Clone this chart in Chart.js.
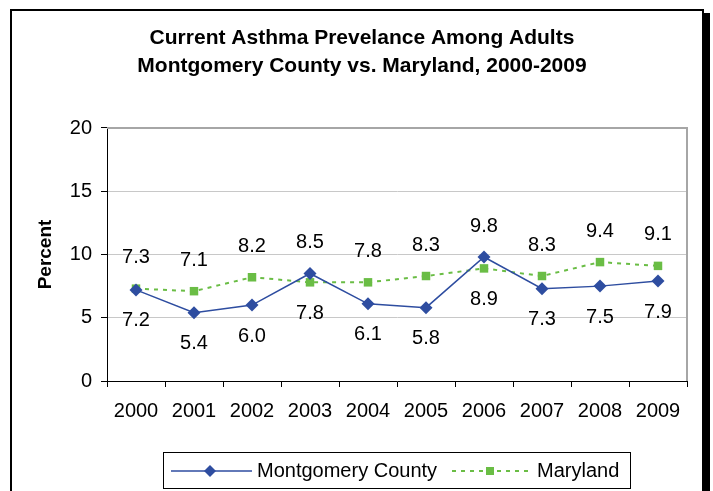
<!DOCTYPE html>
<html>
<head>
<meta charset="utf-8">
<script src="https://cdn.jsdelivr.net/npm/chart.js@4.4.1/dist/chart.umd.min.js"></script>
<style>
  html, body { margin: 0; padding: 0; background: #fff; }
  #wrap { position: relative; width: 713px; height: 491px; }
</style>
</head>
<body>
<div id="wrap"><canvas id="c" width="713" height="491"></canvas></div>
<script>
const years = ['2000','2001','2002','2003','2004','2005','2006','2007','2008','2009'];
const montgomery = [7.2, 5.4, 6.0, 8.5, 6.1, 5.8, 9.8, 7.3, 7.5, 7.9];
const maryland = [7.3, 7.1, 8.2, 7.8, 7.8, 8.3, 8.9, 8.3, 9.4, 9.1];
const yTicks = [0, 5, 10, 15, 20];
const titleLines = ['Current Asthma Prevelance Among Adults', 'Montgomery County vs. Maryland, 2000-2009'];
const yTitle = 'Percent';
const seriesNames = ['Montgomery County', 'Maryland'];

const BLUE = '#2E4DA0';
const GREEN = '#6ABD45';
const FONT = "'Liberation Sans', Arial, sans-serif";

const framePlugin = {
  id: 'frame',
  beforeDraw(chart) {
    const ctx = chart.ctx;
    ctx.save();
    ctx.fillStyle = '#fff';
    ctx.fillRect(0, 0, chart.width, chart.height);
    ctx.fillStyle = '#000';
    ctx.fillRect(704, 13, 6, chart.height);
    ctx.strokeStyle = '#000';
    ctx.lineWidth = 2;
    ctx.beginPath();
    ctx.moveTo(11, chart.height + 5);
    ctx.lineTo(11, 10);
    ctx.lineTo(703, 10);
    ctx.lineTo(703, chart.height + 5);
    ctx.stroke();
    ctx.restore();
  },
  beforeDatasetsDraw(chart) {
    const a = chart.chartArea, ctx = chart.ctx;
    ctx.save();
    ctx.strokeStyle = '#A6A6A6';
    ctx.lineWidth = 2;
    ctx.beginPath();
    ctx.moveTo(a.left, a.top);
    ctx.lineTo(a.right, a.top);
    ctx.lineTo(a.right, a.bottom);
    ctx.stroke();
    ctx.restore();
  }
};

const labelPlugin = {
  id: 'valueLabels',
  afterDatasetsDraw(chart) {
    const ctx = chart.ctx;
    const m0 = chart.getDatasetMeta(0).data;
    const m1 = chart.getDatasetMeta(1).data;
    const d0 = chart.data.datasets[0].data;
    const d1 = chart.data.datasets[1].data;
    ctx.save();
    ctx.font = '20px ' + FONT;
    ctx.fillStyle = '#000';
    ctx.textAlign = 'center';
    ctx.textBaseline = 'middle';
    for (let i = 0; i < d0.length; i++) {
      const aUp = d0[i] > d1[i];
      const up = aUp ? [m0[i], d0[i]] : [m1[i], d1[i]];
      const dn = aUp ? [m1[i], d1[i]] : [m0[i], d0[i]];
      ctx.fillText(up[1].toFixed(1), up[0].x, up[0].y - 31);
      ctx.fillText(dn[1].toFixed(1), dn[0].x, dn[0].y + 31);
    }
    ctx.restore();
  }
};

const legendPlugin = {
  id: 'boxLegend',
  afterDraw(chart) {
    const ctx = chart.ctx;
    ctx.save();
    ctx.strokeStyle = '#000';
    ctx.lineWidth = 1;
    ctx.strokeRect(163.5, 452.5, 467, 36);
    const cy = 471;
    ctx.strokeStyle = BLUE; ctx.lineWidth = 1.5;
    ctx.beginPath(); ctx.moveTo(171, cy); ctx.lineTo(252, cy); ctx.stroke();
    ctx.fillStyle = BLUE;
    ctx.beginPath(); ctx.moveTo(210, cy - 6); ctx.lineTo(216, cy); ctx.lineTo(210, cy + 6); ctx.lineTo(204, cy); ctx.closePath(); ctx.fill();
    ctx.strokeStyle = GREEN; ctx.lineWidth = 2; ctx.setLineDash([4, 5]);
    ctx.beginPath(); ctx.moveTo(452, cy); ctx.lineTo(533, cy); ctx.stroke();
    ctx.setLineDash([]);
    ctx.fillStyle = GREEN;
    ctx.fillRect(486, cy - 4, 8, 8);
    ctx.fillStyle = '#000';
    ctx.font = '20px ' + FONT;
    ctx.textBaseline = 'middle';
    ctx.textAlign = 'left';
    ctx.fillText(seriesNames[0], 257, cy);
    ctx.fillText(seriesNames[1], 537, cy);
    ctx.restore();
  }
};

new Chart(document.getElementById('c'), {
  type: 'line',
  data: {
    labels: years,
    datasets: [
      {
        label: seriesNames[0], data: montgomery,
        borderColor: BLUE, backgroundColor: BLUE, borderWidth: 1.5,
        pointStyle: 'rectRot', pointRadius: 6.5, pointHoverRadius: 6.5,
        pointBackgroundColor: BLUE, pointBorderColor: BLUE, pointBorderWidth: 0,
        tension: 0, fill: false
      },
      {
        label: seriesNames[1], data: maryland,
        borderColor: GREEN, backgroundColor: GREEN, borderWidth: 2, borderDash: [4, 5],
        pointStyle: 'rect', pointRadius: 6, pointHoverRadius: 6,
        pointBackgroundColor: GREEN, pointBorderColor: GREEN, pointBorderWidth: 0,
        tension: 0, fill: false
      }
    ]
  },
  options: {
    responsive: false,
    animation: false,
    events: [],
    layout: { padding: { left: 37, right: 26, top: 0, bottom: 0 } },
    plugins: {
      legend: { display: false },
      tooltip: { enabled: false },
      title: {
        display: true, text: titleLines, color: '#000',
        font: { family: FONT, size: 21, weight: 'bold', lineHeight: 1.3333 },
        padding: { top: 24, bottom: 48 }
      }
    },
    scales: {
      x: {
        offset: true,
        afterFit(s) { s.height = 110; },
        grid: { display: true, drawOnChartArea: false, drawTicks: true, tickLength: 6, tickColor: '#000', offset: true },
        border: { display: true, color: '#000', width: 1 },
        ticks: { color: '#000', font: { family: FONT, size: 20 }, padding: 12, maxRotation: 0, autoSkip: false }
      },
      y: {
        min: 0, max: 20,
        afterFit(s) { s.width = 70; },
        afterBuildTicks(s) { s.ticks = yTicks.map(v => ({ value: v })); },
        grid: { color: '#C8C8C8', lineWidth: 1, tickLength: 6, tickColor: '#000', drawTicks: true },
        border: { display: true, color: '#000', width: 1 },
        ticks: { color: '#000', font: { family: FONT, size: 20 }, padding: 9 },
        title: { display: true, text: yTitle, color: '#000', font: { family: FONT, size: 19, weight: 'bold', lineHeight: 0.9 }, padding: { top: 0.5, bottom: 0 } }
      }
    }
  },
  plugins: [framePlugin, labelPlugin, legendPlugin]
});
</script>
</body>
</html>
